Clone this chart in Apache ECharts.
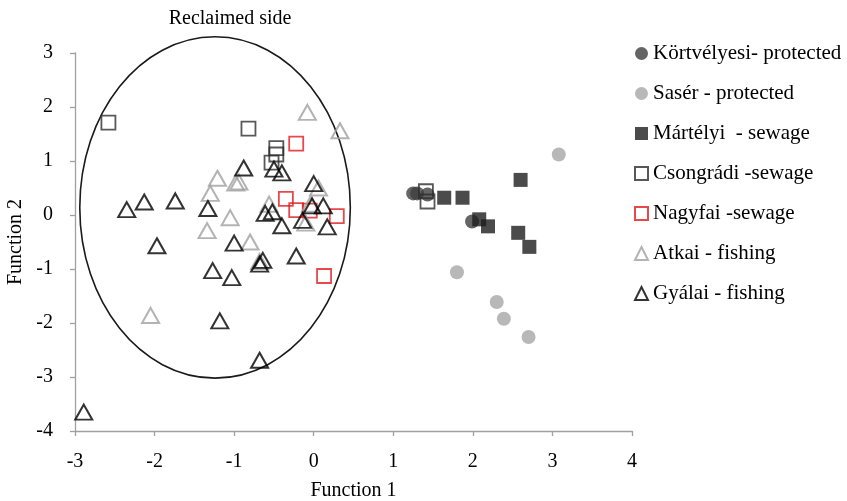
<!DOCTYPE html>
<html>
<head>
<meta charset="utf-8">
<script src="https://cdn.jsdelivr.net/npm/echarts@6/dist/echarts.min.js"></script>
<style>html,body{margin:0;padding:0;background:#fff}#c{width:847px;height:501px}</style>
</head>
<body>
<div id="c"></div>
<script>
// ---- data (Function 1, Function 2) ----
const seriesNames = ['Körtvélyesi- protected','Sasér - protected','Mártélyi  - sewage','Csongrádi -sewage','Nagyfai -sewage','Atkai - fishing','Gyálai - fishing'];
const kortvelyesi = [[1.25,0.40],[1.30,0.40],[1.43,0.38],[1.99,-0.12]];
const saser = [[3.08,1.12],[1.80,-1.06],[2.30,-1.61],[2.39,-1.92],[2.70,-2.26]];
const martelyi = [[1.64,0.32],[1.87,0.32],[2.60,0.65],[2.08,-0.08],[2.19,-0.21],[2.57,-0.33],[2.71,-0.59]];
const csongradi = [[-2.58,1.71],[-0.82,1.60],[-0.47,1.24],[-0.47,1.12],[-0.53,0.97],[1.41,0.44],[1.43,0.25]];
const nagyfai = [[-0.22,1.32],[-0.35,0.30],[-0.22,0.09],[-0.05,0.08],[0.29,-0.02],[0.13,-1.13]];
const atkai = [[-0.08,1.90],[0.33,1.56],[-1.21,0.68],[-0.98,0.59],[-0.94,0.61],[-1.30,0.40],[-1.05,-0.05],[-1.34,-0.29],[-0.80,-0.50],[-0.56,0.20],[0.06,0.50],[-0.04,0.20],[-0.10,-0.15],[-2.05,-1.86],[-0.68,-0.86]];
const gyalai = [[-2.89,-3.65],[-2.35,0.10],[-2.13,0.24],[-1.74,0.26],[-1.97,-0.57],[-1.33,0.12],[-0.88,0.87],[-0.50,0.85],[-0.40,0.78],[0.00,0.58],[-0.61,0.03],[-0.52,0.06],[-0.40,-0.20],[-0.14,-0.10],[-0.02,0.17],[0.12,0.17],[0.17,-0.22],[-1.00,-0.52],[-0.22,-0.76],[-0.64,-0.84],[-0.68,-0.91],[-1.27,-1.03],[-1.03,-1.16],[-1.18,-1.96],[-0.68,-2.69]];
// ellipse annotation (data units): centre, radii
const ellipse = {cx:-1.24, cy:0.14, rx:1.70, ry:3.16};
const ellipseLabel = 'Reclaimed side';
const xTicks = {min:-3, max:4, interval:1};
const yTicks = {min:-4, max:3, interval:1};

const FONT = "'Liberation Serif','Times New Roman',serif";
const chart = echarts.init(document.getElementById('c'));

function sc(name, data, symbol, size, style, z){
  return {name, type:'scatter', data, symbol, symbolSize:size, itemStyle:style, z:z, emphasis:{disabled:true}, animation:false};
}
const option = {
  animation:false,
  textStyle:{fontFamily:FONT},
  grid:{left:75, right:215, top:53, bottom:70, outerBoundsMode:'none', containLabel:false},
  xAxis:{type:'value', min:xTicks.min, max:xTicks.max, interval:xTicks.interval,
    name:'Function 1', nameLocation:'middle', nameGap:50,
    nameTextStyle:{fontFamily:FONT, fontSize:20, color:'#000'},
    axisLine:{onZero:false, lineStyle:{color:'#a0a0a0', width:1.3}},
    axisTick:{show:true, length:5, lineStyle:{color:'#a0a0a0', width:1.3}},
    axisLabel:{fontFamily:FONT, fontSize:20, color:'#000', margin:21},
    splitLine:{show:false}},
  yAxis:{type:'value', min:yTicks.min, max:yTicks.max, interval:yTicks.interval,
    name:'Function 2', nameLocation:'middle', nameGap:43, nameRotate:90,
    nameTextStyle:{fontFamily:FONT, fontSize:20, color:'#000'},
    axisLine:{show:true, onZero:false, lineStyle:{color:'#a0a0a0', width:1.3}},
    axisTick:{show:true, length:5, lineStyle:{color:'#a0a0a0', width:1.3}},
    axisLabel:{fontFamily:FONT, fontSize:20, color:'#000', margin:22},
    splitLine:{show:false}},
  legend:{orient:'vertical', left:634, top:43, padding:0, itemWidth:13, itemHeight:13, itemGap:19,
    textStyle:{fontFamily:FONT, fontSize:21, color:'#000', lineHeight:20},
    data:seriesNames},
  series:[
    sc(seriesNames[0], kortvelyesi, 'circle', 14, {color:'#3f3f3f'}, 2),
    sc(seriesNames[1], saser, 'circle', 14, {color:'#a6a6a6'}, 2),
    sc(seriesNames[2], martelyi, 'rect', 14, {color:'#1e1e1e'}, 3),
    sc(seriesNames[3], csongradi, 'rect', 14, {color:'rgba(255,255,255,0)', borderColor:'#2e2e2e', borderWidth:1.8}, 4),
    sc(seriesNames[4], nagyfai, 'rect', 14, {color:'rgba(255,255,255,0)', borderColor:'#e01a1f', borderWidth:1.8}, 4),
    sc(seriesNames[5], atkai, 'triangle', [17,15], {color:'rgba(255,255,255,0)', borderColor:'#a0a0a0', borderWidth:2}, 4),
    sc(seriesNames[6], gyalai, 'triangle', [17,15], {color:'rgba(255,255,255,0)', borderColor:'#000', borderWidth:2}, 5)
  ]
};
chart.setOption(option);
const c0 = chart.convertToPixel({gridIndex:0}, [ellipse.cx, ellipse.cy]);
const c1 = chart.convertToPixel({gridIndex:0}, [ellipse.cx + ellipse.rx, ellipse.cy + ellipse.ry]);
const rx = c1[0]-c0[0], ry = c0[1]-c1[1];
chart.setOption({graphic:[
  {type:'ellipse', shape:{cx:c0[0], cy:c0[1], rx:rx, ry:ry}, style:{fill:'none', stroke:'#1a1a1a', lineWidth:1.6}, z:1, silent:true},
  {type:'text', x:c0[0]+15, y:c0[1]-ry-18, style:{text:ellipseLabel, font:"20px 'Liberation Serif','Times New Roman',serif", fill:'#000', align:'center', verticalAlign:'middle'}, silent:true}
]});
</script>
</body>
</html>
